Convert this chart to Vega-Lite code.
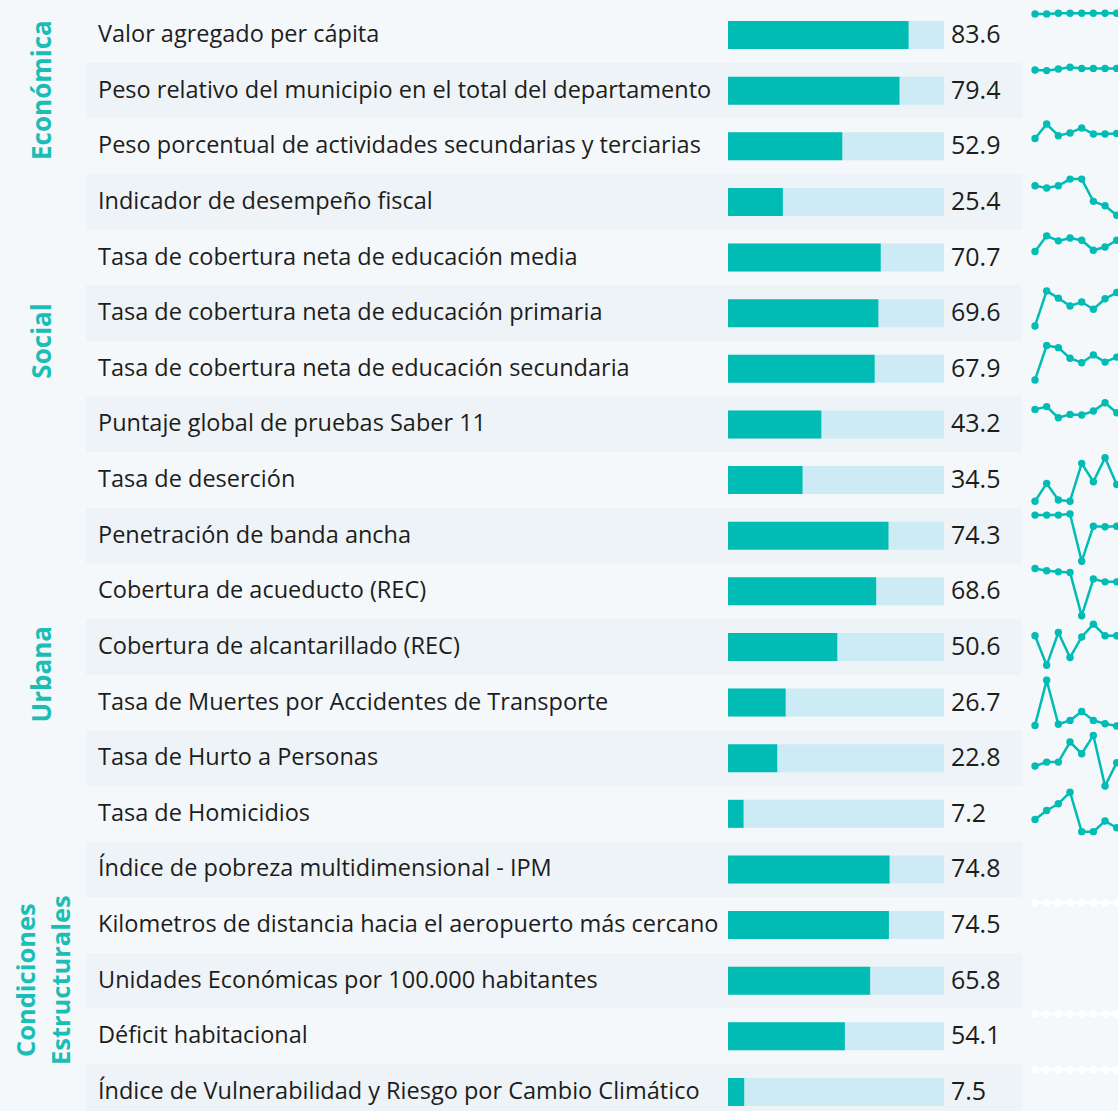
{
  "$schema": "https://vega.github.io/schema/vega-lite/v6.json",
  "background": "#f5f8fb",
  "padding": 0,
  "spacing": 0,
  "config": {"view": {"stroke": null}, "concat": {"spacing": 0}},
  "datasets": {
    "indicadores": [
      {"fila": 1, "indicador": "Valor agregado per cápita", "valor": 83.6, "franja": false},
      {"fila": 2, "indicador": "Peso relativo del municipio en el total del departamento", "valor": 79.4, "franja": true},
      {"fila": 3, "indicador": "Peso porcentual de actividades secundarias y terciarias", "valor": 52.9, "franja": false},
      {"fila": 4, "indicador": "Indicador de desempeño fiscal", "valor": 25.4, "franja": true},
      {"fila": 5, "indicador": "Tasa de cobertura neta de educación media", "valor": 70.7, "franja": false},
      {"fila": 6, "indicador": "Tasa de cobertura neta de educación primaria", "valor": 69.6, "franja": true},
      {"fila": 7, "indicador": "Tasa de cobertura neta de educación secundaria", "valor": 67.9, "franja": false},
      {"fila": 8, "indicador": "Puntaje global de pruebas Saber 11", "valor": 43.2, "franja": true},
      {"fila": 9, "indicador": "Tasa de deserción", "valor": 34.5, "franja": false},
      {"fila": 10, "indicador": "Penetración de banda ancha", "valor": 74.3, "franja": true},
      {"fila": 11, "indicador": "Cobertura de acueducto (REC)", "valor": 68.6, "franja": false},
      {"fila": 12, "indicador": "Cobertura de alcantarillado (REC)", "valor": 50.6, "franja": true},
      {"fila": 13, "indicador": "Tasa de Muertes por Accidentes de Transporte", "valor": 26.7, "franja": false},
      {"fila": 14, "indicador": "Tasa de Hurto a Personas", "valor": 22.8, "franja": true},
      {"fila": 15, "indicador": "Tasa de Homicidios", "valor": 7.2, "franja": false},
      {"fila": 16, "indicador": "Índice de pobreza multidimensional - IPM", "valor": 74.8, "franja": true},
      {"fila": 17, "indicador": "Kilometros de distancia hacia el aeropuerto más cercano", "valor": 74.5, "franja": false},
      {"fila": 18, "indicador": "Unidades Económicas por 100.000 habitantes", "valor": 65.8, "franja": true},
      {"fila": 19, "indicador": "Déficit habitacional", "valor": 54.1, "franja": false},
      {"fila": 20, "indicador": "Índice de Vulnerabilidad y Riesgo por Cambio Climático", "valor": 7.5, "franja": true}
    ],
    "grupos": [
      {"grupo": "Económica", "fila_centro": 1.99, "lineas": 1},
      {"grupo": "Social", "fila_centro": 6.5, "lineas": 1},
      {"grupo": "Urbana", "fila_centro": 12.49, "lineas": 1},
      {"grupo": "Condiciones\nEstructurales", "fila_centro": 17.99, "lineas": 2}
    ],
    "series": [
      {"fila":1,"t":1,"nivel":88,"serie":"con dato"},{"fila":1,"t":2,"nivel":88,"serie":"con dato"},{"fila":1,"t":3,"nivel":89,"serie":"con dato"},{"fila":1,"t":4,"nivel":89,"serie":"con dato"},{"fila":1,"t":5,"nivel":89,"serie":"con dato"},{"fila":1,"t":6,"nivel":89,"serie":"con dato"},{"fila":1,"t":7,"nivel":89,"serie":"con dato"},{"fila":1,"t":8,"nivel":89,"serie":"con dato"},
      {"fila":2,"t":1,"nivel":87,"serie":"con dato"},{"fila":2,"t":2,"nivel":86,"serie":"con dato"},{"fila":2,"t":3,"nivel":89,"serie":"con dato"},{"fila":2,"t":4,"nivel":92,"serie":"con dato"},{"fila":2,"t":5,"nivel":90,"serie":"con dato"},{"fila":2,"t":6,"nivel":90,"serie":"con dato"},{"fila":2,"t":7,"nivel":90,"serie":"con dato"},{"fila":2,"t":8,"nivel":90,"serie":"con dato"},
      {"fila":3,"t":1,"nivel":64,"serie":"con dato"},{"fila":3,"t":2,"nivel":90,"serie":"con dato"},{"fila":3,"t":3,"nivel":69,"serie":"con dato"},{"fila":3,"t":4,"nivel":74,"serie":"con dato"},{"fila":3,"t":5,"nivel":83,"serie":"con dato"},{"fila":3,"t":6,"nivel":72,"serie":"con dato"},{"fila":3,"t":7,"nivel":72,"serie":"con dato"},{"fila":3,"t":8,"nivel":73,"serie":"con dato"},
      {"fila":4,"t":1,"nivel":79,"serie":"con dato"},{"fila":4,"t":2,"nivel":75,"serie":"con dato"},{"fila":4,"t":3,"nivel":79,"serie":"con dato"},{"fila":4,"t":4,"nivel":91,"serie":"con dato"},{"fila":4,"t":5,"nivel":91,"serie":"con dato"},{"fila":4,"t":6,"nivel":51,"serie":"con dato"},{"fila":4,"t":7,"nivel":43,"serie":"con dato"},{"fila":4,"t":8,"nivel":26,"serie":"con dato"},
      {"fila":5,"t":1,"nivel":61,"serie":"con dato"},{"fila":5,"t":2,"nivel":89,"serie":"con dato"},{"fila":5,"t":3,"nivel":80,"serie":"con dato"},{"fila":5,"t":4,"nivel":85,"serie":"con dato"},{"fila":5,"t":5,"nivel":81,"serie":"con dato"},{"fila":5,"t":6,"nivel":63,"serie":"con dato"},{"fila":5,"t":7,"nivel":69,"serie":"con dato"},{"fila":5,"t":8,"nivel":81,"serie":"con dato"},
      {"fila":6,"t":1,"nivel":27,"serie":"con dato"},{"fila":6,"t":2,"nivel":90,"serie":"con dato"},{"fila":6,"t":3,"nivel":77,"serie":"con dato"},{"fila":6,"t":4,"nivel":63,"serie":"con dato"},{"fila":6,"t":5,"nivel":70,"serie":"con dato"},{"fila":6,"t":6,"nivel":57,"serie":"con dato"},{"fila":6,"t":7,"nivel":76,"serie":"con dato"},{"fila":6,"t":8,"nivel":87,"serie":"con dato"},
      {"fila":7,"t":1,"nivel":30,"serie":"con dato"},{"fila":7,"t":2,"nivel":92,"serie":"con dato"},{"fila":7,"t":3,"nivel":88,"serie":"con dato"},{"fila":7,"t":4,"nivel":69,"serie":"con dato"},{"fila":7,"t":5,"nivel":61,"serie":"con dato"},{"fila":7,"t":6,"nivel":75,"serie":"con dato"},{"fila":7,"t":7,"nivel":62,"serie":"con dato"},{"fila":7,"t":8,"nivel":71,"serie":"con dato"},
      {"fila":8,"t":1,"nivel":77,"serie":"con dato"},{"fila":8,"t":2,"nivel":82,"serie":"con dato"},{"fila":8,"t":3,"nivel":62,"serie":"con dato"},{"fila":8,"t":4,"nivel":68,"serie":"con dato"},{"fila":8,"t":5,"nivel":67,"serie":"con dato"},{"fila":8,"t":6,"nivel":74,"serie":"con dato"},{"fila":8,"t":7,"nivel":89,"serie":"con dato"},{"fila":8,"t":8,"nivel":71,"serie":"con dato"},
      {"fila":9,"t":1,"nivel":12,"serie":"con dato"},{"fila":9,"t":2,"nivel":44,"serie":"con dato"},{"fila":9,"t":3,"nivel":14,"serie":"con dato"},{"fila":9,"t":4,"nivel":12,"serie":"con dato"},{"fila":9,"t":5,"nivel":80,"serie":"con dato"},{"fila":9,"t":6,"nivel":47,"serie":"con dato"},{"fila":9,"t":7,"nivel":90,"serie":"con dato"},{"fila":9,"t":8,"nivel":42,"serie":"con dato"},
      {"fila":10,"t":1,"nivel":87,"serie":"con dato"},{"fila":10,"t":2,"nivel":87,"serie":"con dato"},{"fila":10,"t":3,"nivel":87,"serie":"con dato"},{"fila":10,"t":4,"nivel":89,"serie":"con dato"},{"fila":10,"t":5,"nivel":4,"serie":"con dato"},{"fila":10,"t":6,"nivel":67,"serie":"con dato"},{"fila":10,"t":7,"nivel":66,"serie":"con dato"},{"fila":10,"t":8,"nivel":67,"serie":"con dato"},
      {"fila":11,"t":1,"nivel":91,"serie":"con dato"},{"fila":11,"t":2,"nivel":87,"serie":"con dato"},{"fila":11,"t":3,"nivel":85,"serie":"con dato"},{"fila":11,"t":4,"nivel":84,"serie":"con dato"},{"fila":11,"t":5,"nivel":6,"serie":"con dato"},{"fila":11,"t":6,"nivel":72,"serie":"con dato"},{"fila":11,"t":7,"nivel":67,"serie":"con dato"},{"fila":11,"t":8,"nivel":67,"serie":"con dato"},
      {"fila":12,"t":1,"nivel":70,"serie":"con dato"},{"fila":12,"t":2,"nivel":17,"serie":"con dato"},{"fila":12,"t":3,"nivel":76,"serie":"con dato"},{"fila":12,"t":4,"nivel":31,"serie":"con dato"},{"fila":12,"t":5,"nivel":68,"serie":"con dato"},{"fila":12,"t":6,"nivel":91,"serie":"con dato"},{"fila":12,"t":7,"nivel":70,"serie":"con dato"},{"fila":12,"t":8,"nivel":70,"serie":"con dato"},
      {"fila":13,"t":1,"nivel":9,"serie":"con dato"},{"fila":13,"t":2,"nivel":90,"serie":"con dato"},{"fila":13,"t":3,"nivel":11,"serie":"con dato"},{"fila":13,"t":4,"nivel":18,"serie":"con dato"},{"fila":13,"t":5,"nivel":34,"serie":"con dato"},{"fila":13,"t":6,"nivel":18,"serie":"con dato"},{"fila":13,"t":7,"nivel":12,"serie":"con dato"},{"fila":13,"t":8,"nivel":8,"serie":"con dato"},
      {"fila":14,"t":1,"nivel":36,"serie":"con dato"},{"fila":14,"t":2,"nivel":43,"serie":"con dato"},{"fila":14,"t":3,"nivel":43,"serie":"con dato"},{"fila":14,"t":4,"nivel":79,"serie":"con dato"},{"fila":14,"t":5,"nivel":58,"serie":"con dato"},{"fila":14,"t":6,"nivel":91,"serie":"con dato"},{"fila":14,"t":7,"nivel":0,"serie":"con dato"},{"fila":14,"t":8,"nivel":42,"serie":"con dato"},
      {"fila":15,"t":1,"nivel":40,"serie":"con dato"},{"fila":15,"t":2,"nivel":56,"serie":"con dato"},{"fila":15,"t":3,"nivel":68,"serie":"con dato"},{"fila":15,"t":4,"nivel":89,"serie":"con dato"},{"fila":15,"t":5,"nivel":18,"serie":"con dato"},{"fila":15,"t":6,"nivel":18,"serie":"con dato"},{"fila":15,"t":7,"nivel":37,"serie":"con dato"},{"fila":15,"t":8,"nivel":25,"serie":"con dato"},
      {"fila":17,"t":1,"nivel":90,"serie":"sin dato"},{"fila":17,"t":2,"nivel":90,"serie":"sin dato"},{"fila":17,"t":3,"nivel":90,"serie":"sin dato"},{"fila":17,"t":4,"nivel":90,"serie":"sin dato"},{"fila":17,"t":5,"nivel":90,"serie":"sin dato"},{"fila":17,"t":6,"nivel":90,"serie":"sin dato"},{"fila":17,"t":7,"nivel":90,"serie":"sin dato"},{"fila":17,"t":8,"nivel":90,"serie":"sin dato"},
      {"fila":19,"t":1,"nivel":90,"serie":"sin dato"},{"fila":19,"t":2,"nivel":90,"serie":"sin dato"},{"fila":19,"t":3,"nivel":90,"serie":"sin dato"},{"fila":19,"t":4,"nivel":90,"serie":"sin dato"},{"fila":19,"t":5,"nivel":90,"serie":"sin dato"},{"fila":19,"t":6,"nivel":90,"serie":"sin dato"},{"fila":19,"t":7,"nivel":90,"serie":"sin dato"},{"fila":19,"t":8,"nivel":90,"serie":"sin dato"},
      {"fila":20,"t":1,"nivel":90,"serie":"sin dato"},{"fila":20,"t":2,"nivel":90,"serie":"sin dato"},{"fila":20,"t":3,"nivel":90,"serie":"sin dato"},{"fila":20,"t":4,"nivel":90,"serie":"sin dato"},{"fila":20,"t":5,"nivel":90,"serie":"sin dato"},{"fila":20,"t":6,"nivel":90,"serie":"sin dato"},{"fila":20,"t":7,"nivel":90,"serie":"sin dato"},{"fila":20,"t":8,"nivel":90,"serie":"sin dato"}
    ]
  },
  "hconcat": [
    {
      "width": 86,
      "height": 1111,
      "data": {"name": "grupos"},
      "encoding": {
        "y": {"field": "fila_centro", "type": "quantitative", "scale": {"domain": [0.3708, 20.342], "reverse": true, "nice": false, "zero": false, "padding": 0}, "axis": null},
        "text": {"field": "grupo", "type": "nominal"}
      },
      "layer": [
        {
          "transform": [{"filter": "datum.lineas == 1"}],
          "mark": {"type": "text", "angle": 270, "font": "Open Sans", "fontWeight": "bold", "fontSize": 26, "color": "#1bbdb5", "align": "center", "baseline": "middle"}
        },
        {
          "transform": [{"filter": "datum.lineas == 2"}],
          "mark": {"type": "text", "angle": 270, "font": "Open Sans", "fontWeight": "bold", "fontSize": 25.5, "color": "#1bbdb5", "align": "center", "baseline": "middle", "lineBreak": "\n", "lineHeight": 35, "dy": -16}
        }
      ]
    },
    {
      "width": 642,
      "height": 1111,
      "data": {"name": "indicadores"},
      "layer": [
        {
          "transform": [{"filter": "datum.franja"}],
          "mark": {"type": "bar", "orient": "horizontal", "color": "#eef3f7", "clip": true},
          "encoding": {
            "x": {"value": 0},
            "x2": {"value": "width"},
            "y": {"field": "fila", "type": "quantitative", "scale": {"domain": [0.3708, 20.342], "reverse": true, "nice": false, "zero": false, "padding": 0}, "axis": null},
            "size": {"value": 55.63}
          }
        },
        {
          "mark": {"type": "text", "align": "left", "baseline": "middle", "dx": 12, "font": "Open Sans", "fontSize": 23.5, "color": "#1d1d1b"},
          "encoding": {
            "x": {"value": 0},
            "y": {"field": "fila", "type": "quantitative", "axis": null},
            "text": {"field": "indicador", "type": "nominal"}
          }
        }
      ]
    },
    {
      "width": 216,
      "height": 1111,
      "data": {"name": "indicadores"},
      "layer": [
        {
          "transform": [{"filter": "datum.franja"}],
          "mark": {"type": "bar", "orient": "horizontal", "color": "#eef3f7", "clip": true},
          "encoding": {
            "x": {"value": 0},
            "x2": {"value": "width"},
            "y": {"field": "fila", "type": "quantitative", "scale": {"domain": [0.3708, 20.342], "reverse": true, "nice": false, "zero": false, "padding": 0}, "axis": null},
            "size": {"value": 55.63}
          }
        },
        {
          "mark": {"type": "bar", "orient": "horizontal", "color": "#cdebf4"},
          "encoding": {
            "x": {"datum": 100, "type": "quantitative", "scale": {"domain": [0, 100], "nice": false, "padding": 0}, "axis": null},
            "y": {"field": "fila", "type": "quantitative", "axis": null},
            "size": {"value": 28}
          }
        },
        {
          "mark": {"type": "bar", "orient": "horizontal", "color": "#00bcb4"},
          "encoding": {
            "x": {"field": "valor", "type": "quantitative"},
            "y": {"field": "fila", "type": "quantitative", "axis": null},
            "size": {"value": 28}
          }
        }
      ]
    },
    {
      "width": 78,
      "height": 1111,
      "data": {"name": "indicadores"},
      "layer": [
        {
          "transform": [{"filter": "datum.franja"}],
          "mark": {"type": "bar", "orient": "horizontal", "color": "#eef3f7", "clip": true},
          "encoding": {
            "x": {"value": 0},
            "x2": {"value": "width"},
            "y": {"field": "fila", "type": "quantitative", "scale": {"domain": [0.3708, 20.342], "reverse": true, "nice": false, "zero": false, "padding": 0}, "axis": null},
            "size": {"value": 55.63}
          }
        },
        {
          "mark": {"type": "text", "align": "left", "baseline": "middle", "dx": 7, "font": "Open Sans", "fontSize": 25, "color": "#1d1d1b"},
          "encoding": {
            "x": {"value": 0},
            "y": {"field": "fila", "type": "quantitative", "axis": null},
            "text": {"field": "valor", "type": "quantitative", "format": ".1f"}
          }
        }
      ]
    },
    {
      "width": 96,
      "height": 1111,
      "data": {"name": "series"},
      "encoding": {
        "x": {"field": "t", "type": "quantitative", "scale": {"domain": [-0.114, 8.11], "nice": false, "zero": false, "padding": 0}, "axis": null},
        "y": {"field": "fila", "type": "ordinal", "scale": {"domain": [1,2,3,4,5,6,7,8,9,10,11,12,13,14,15,16,17,18,19,20], "range": [7.2, 1119.8], "paddingInner": 0, "paddingOuter": 0}, "axis": null},
        "yOffset": {"field": "nivel", "type": "quantitative", "scale": {"domain": [0, 100], "range": [55.63, 0]}},
        "color": {"field": "serie", "type": "nominal", "scale": {"domain": ["con dato", "sin dato"], "range": ["#00bcb4", "#ffffff"]}, "legend": null},
        "detail": {"field": "fila", "type": "nominal"}
      },
      "layer": [
        {"mark": {"type": "line", "strokeWidth": 2.5, "clip": true}, "encoding": {"order": {"field": "t", "type": "quantitative"}}},
        {"mark": {"type": "point", "filled": true, "opacity": 1, "size": 55, "clip": true}}
      ]
    }
  ]
}
